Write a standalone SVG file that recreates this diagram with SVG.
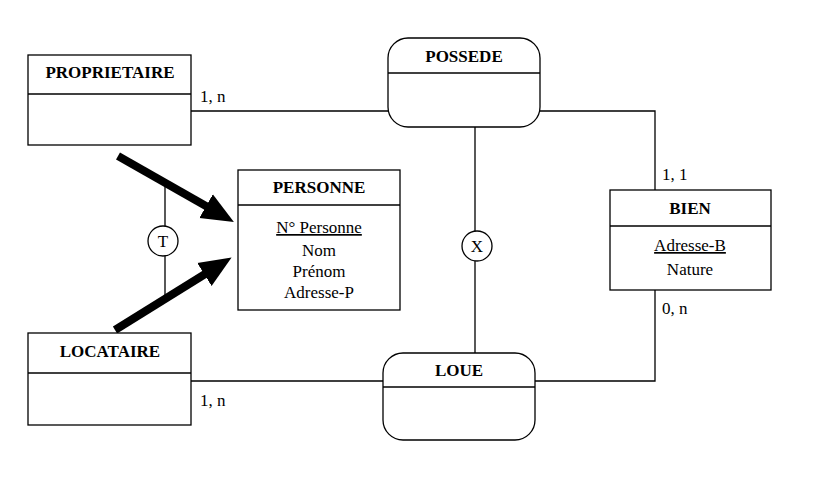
<svg xmlns="http://www.w3.org/2000/svg" width="819" height="495" viewBox="0 0 819 495">
<style>
.b{fill:#fff;stroke:#000;stroke-width:1.3}
.l{fill:none;stroke:#000;stroke-width:1.3}
.t{font-family:"Liberation Serif",serif;font-size:17px;fill:#000}
.h{font-family:"Liberation Serif",serif;font-size:17px;font-weight:bold;fill:#000;text-anchor:middle}
.c{text-anchor:middle}
.a{stroke:#000;stroke-width:8;fill:none}
</style>
<defs><marker id="ah" markerWidth="4" markerHeight="4" refX="2" refY="2" orient="auto" markerUnits="strokeWidth"><path d="M0,0.3 L4,2 L0,3.7 z" fill="#000"/></marker></defs>
<rect width="819" height="495" fill="#fff"/>
<g id="connectors">
<path class="l" d="M191,111 H388 M540,111 H655 V190 M655,290 V381 H535 M191,381 H383 M475,127 V353 M165,185 V295"/>
<circle class="b" cx="477" cy="246" r="15"/><text class="t c" x="477" y="252">X</text>
<circle class="b" cx="163" cy="241" r="15"/><text class="t c" x="163" y="247">T</text>
<line class="a" x1="118" y1="156" x2="220" y2="214" marker-end="url(#ah)"/>
<line class="a" x1="115" y1="330" x2="218" y2="266" marker-end="url(#ah)"/>
<text class="t" x="200" y="102">1, n</text>
<text class="t" x="662" y="180">1, 1</text>
<text class="t" x="662" y="314">0, n</text>
<text class="t" x="200" y="406">1, n</text>
</g>
<g id="proprietaire"><rect class="b" x="28" y="55" width="163" height="90"/><line class="l" x1="28" y1="94" x2="191" y2="94"/><text class="h" x="110" y="78">PROPRIETAIRE</text></g>
<g id="possede"><rect class="b" x="388" y="38" width="152" height="89" rx="20"/><line class="l" x1="388" y1="73" x2="540" y2="73"/><text class="h" x="464" y="62">POSSEDE</text></g>
<g id="personne"><rect class="b" x="238" y="170" width="162" height="140"/><line class="l" x1="238" y1="205" x2="400" y2="205"/><text class="h" x="319" y="193">PERSONNE</text>
<text class="t c" x="319" y="233" text-decoration="underline">N° Personne</text><text class="t c" x="319" y="256">Nom</text><text class="t c" x="319" y="277">Prénom</text><text class="t c" x="319" y="298">Adresse-P</text></g>
<g id="bien"><rect class="b" x="610" y="190" width="161" height="100"/><line class="l" x1="610" y1="226" x2="771" y2="226"/><text class="h" x="690" y="214">BIEN</text>
<text class="t c" x="690" y="251" text-decoration="underline">Adresse-B</text><text class="t c" x="690" y="275">Nature</text></g>
<g id="locataire"><rect class="b" x="28" y="333" width="163" height="92"/><line class="l" x1="28" y1="373" x2="191" y2="373"/><text class="h" x="110" y="357">LOCATAIRE</text></g>
<g id="loue"><rect class="b" x="383" y="353" width="152" height="87" rx="20"/><line class="l" x1="383" y1="387" x2="535" y2="387"/><text class="h" x="459" y="376">LOUE</text></g>
</svg>
